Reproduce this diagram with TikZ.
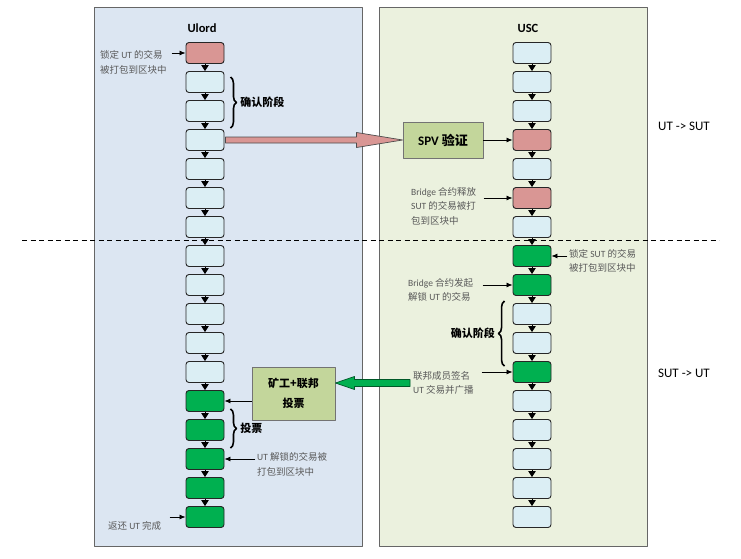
\documentclass[tikz,border=0pt]{standalone}
\usepackage{fontspec}
\setmainfont{Carlito}
\newfontfamily\cjk{Noto Sans CJK SC}
\newcommand\zh[1]{{\cjk #1}}
\usetikzlibrary{arrows.meta,positioning,calc,decorations.pathreplacing}
\definecolor{leftbg}{RGB}{220,230,242}
\definecolor{rightbg}{RGB}{235,241,222}
\definecolor{blkblue}{RGB}{219,238,244}
\definecolor{blkred}{RGB}{217,150,148}
\definecolor{blkgreen}{RGB}{0,176,80}
\definecolor{olivebox}{RGB}{195,214,155}
\definecolor{notegray}{RGB}{89,89,89}
\tikzset{
  blk/.style={draw=black!85, rounded corners=3pt, minimum width=38pt, minimum height=21pt, inner sep=0pt, line width=0.9pt},
  lt/.style={blk, fill=blkblue},
  rd/.style={blk, fill=blkred},
  gn/.style={blk, fill=blkgreen},
  link/.style={-{Triangle[width=7.5pt,length=6pt]}, line width=0.8pt},
  pointer/.style={-{Latex[length=6pt,width=5pt]}, line width=0.8pt},
  note/.style={font=\fontsize{9.5}{14.5}\selectfont, text=notegray, align=left, inner sep=0pt, anchor=west},
  title/.style={font=\fontsize{12.5}{14}\selectfont\bfseries},
  phase/.style={font=\fontsize{11}{13}\selectfont\cjk\bfseries, inner sep=0pt},
  brc/.style={decorate, decoration={brace, amplitude=6pt}, line width=1.6pt},
  panel/.style={draw=black!60, line width=1pt},
  chainbox/.style={draw=black!55, fill=olivebox, line width=0.9pt, inner sep=0pt, align=center},
}
\begin{document}
\begin{tikzpicture}[x=1pt, y=-1pt, line join=round]
  \useasboundingbox (0,0) rectangle (741,559);
  \draw[panel, fill=leftbg] (94,8) rectangle (362,546);
  \draw[panel, fill=rightbg] (379,8) rectangle (647,546);
  \draw[dash pattern=on 5pt off 3.5pt, line width=0.8pt] (22,240) -- (719,240);
  \node[title] (ulord) at (202,28) {Ulord};
  \node[title] (usc) at (528,28) {USC};
  \foreach \c [count=\i] in {rd,lt,lt,lt,lt,lt,lt,lt,lt,lt,lt,lt,gn,gn,gn,gn,gn}
    \node[\c] (L\i) at (205,{53+29*(\i-1)}) {};
  \foreach \c [count=\i] in {lt,lt,lt,rd,lt,rd,lt,gn,gn,lt,lt,gn,lt,lt,lt,lt,lt}
    \node[\c] (R\i) at (532,{53+29*(\i-1)}) {};
  \foreach \i in {1,...,16} {
    \pgfmathtruncatemacro\j{\i+1}
    \draw[link] (L\i) -- (L\j);
    \draw[link] (R\i) -- (R\j);
  }
  \node[chainbox, minimum width=80pt, minimum height=36pt, font=\fontsize{13}{15}\selectfont\bfseries] (spv) at (443,140) {SPV \zh{验证}};
  \node[chainbox, minimum width=83pt, minimum height=53pt, font=\fontsize{11}{20}\selectfont\cjk\bfseries] (vote) at (293.5,393.5) {矿工+联邦\\投票};
  \draw[fill=blkred, draw=black!70, line width=0.7pt] ($(L4.east)+(1,-3)$) -- ($(spv.west)+(-46,-3)$) -- ($(spv.west)+(-46,-7.5)$) -- (spv.west) -- ($(spv.west)+(-46,7.5)$) -- ($(spv.west)+(-46,3)$) -- ($(L4.east)+(1,3)$) -- cycle;
  \draw[pointer] (spv.east) -- (R4.west);
  \node[note] (lockut) at (100,62.5) {\zh{锁定} UT \zh{的交易}\\\zh{被打包到区块中}};
  \draw[pointer] ($(L1.west)+(-14,0)$) -- (L1.west);
  \draw[brc] ($(L2.north east)+(6,6)$) -- ($(L4.north east)+(6,-1)$) node[phase, midway, right=9pt] (conf1) {确认阶段};
  \node[note] (release) at (411,206) {Bridge \zh{合约释放}\\SUT \zh{的交易被打}\\\zh{包到区块中}};
  \draw[pointer] ($(R6.west)+(-29,0)$) -- (R6.west);
  \node[note] (locksut) at (569,261) {\zh{锁定} SUT \zh{的交易}\\\zh{被打包到区块中}};
  \draw[pointer] ($(R8.east)+(16,0)$) -- (R8.east);
  \node[note] (unlock) at (408,290) {Bridge \zh{合约发起}\\\zh{解锁} UT \zh{的交易}};
  \draw[pointer] ($(R9.west)+(-30,0)$) -- (R9.west);
  \draw[brc] ($(R12.north west)+(-8,5)$) -- ($(R10.north west)+(-8,-2)$) node[phase, midway, left=9pt] (conf2) {确认阶段};
  \node[note] (sign) at (413,383) {\zh{联邦成员签名}\\UT \zh{交易并广播}};
  \draw[pointer] ($(R12.west)+(-31,0)$) -- (R12.west);
  \draw[fill=blkgreen, draw=black!50!blkgreen, line width=0.7pt] ($(sign.west)+(-3,-3.5)$) -- ($(vote.east |- sign.west)+(19,-3.5)$) -- ($(vote.east |- sign.west)+(19,-6.5)$) -- (vote.east |- sign.west) -- ($(vote.east |- sign.west)+(19,6.5)$) -- ($(vote.east |- sign.west)+(19,3.5)$) -- ($(sign.west)+(-3,3.5)$) -- cycle;
  \draw[pointer] (vote.west |- L13.east) -- (L13.east);
  \draw[brc] ($(L13.south east)+(6,-3)$) -- ($(L15.north east)+(6,0)$) node[phase, midway, right=9pt] (votes) {投票};
  \node[note] (unlocked) at (257,464.5) {UT \zh{解锁的交易被}\\\zh{打包到区块中}};
  \draw[pointer] ($(L15.east)+(31,0)$) -- (L15.east);
  \node[note] (back) at (108,526) {\zh{返还} UT \zh{完成}};
  \draw[pointer] ($(L17.west)+(-16,0)$) -- (L17.west);
  \node[font=\fontsize{13}{15}\selectfont] (toSUT) at (684,126) {UT -> SUT};
  \node[font=\fontsize{13}{15}\selectfont] (toUT) at (684,373) {SUT -> UT};
\end{tikzpicture}
\end{document}
